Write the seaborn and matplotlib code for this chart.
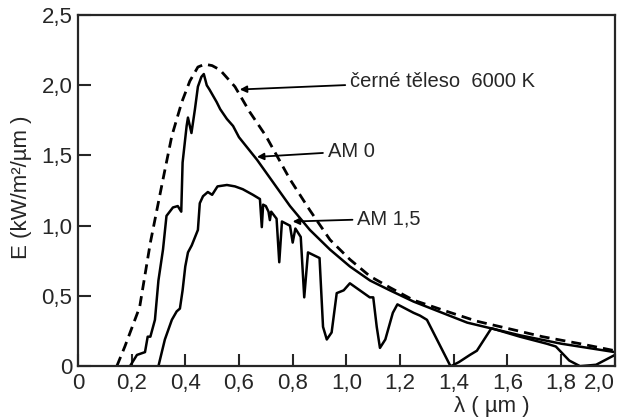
import matplotlib
matplotlib.use('Agg')
import matplotlib.pyplot as plt
import seaborn as sns
import pandas as pd

# vlnova delka (um) a E (kW/m2/um)
bb_x = [0.145, 0.175, 0.23, 0.27, 0.317, 0.35, 0.387, 0.417, 0.447, 0.473, 0.50,
        0.529, 0.585, 0.64, 0.70, 0.79, 0.864, 0.939, 1.013, 1.088, 1.162, 1.25,
        1.374, 1.486, 1.62, 1.73, 1.87, 2.0]
bb_y = [0, 0.14, 0.42, 0.88, 1.33, 1.64, 1.88, 2.03, 2.13, 2.15, 2.14,
        2.11, 1.99, 1.81, 1.64, 1.33, 1.11, 0.90, 0.76, 0.64, 0.56, 0.47,
        0.39, 0.32, 0.26, 0.21, 0.16, 0.11]

am0_x = [0.194, 0.22, 0.25, 0.26, 0.27, 0.287, 0.30, 0.317, 0.33, 0.354, 0.372,
         0.385, 0.39, 0.405, 0.41, 0.423, 0.436, 0.447, 0.46, 0.469, 0.48, 0.49,
         0.517, 0.53, 0.555, 0.578, 0.60, 0.667, 0.79, 0.864, 0.939, 1.013,
         1.088, 1.162, 1.25, 1.45, 1.646, 1.8, 2.0]
am0_y = [0, 0.08, 0.10, 0.21, 0.21, 0.33, 0.61, 0.83, 1.07, 1.13, 1.14,
         1.10, 1.45, 1.71, 1.77, 1.66, 1.83, 1.99, 2.06, 2.08, 2.00, 1.97,
         1.88, 1.83, 1.76, 1.71, 1.63, 1.47, 1.14, 0.97, 0.83, 0.71,
         0.61, 0.54, 0.46, 0.31, 0.22, 0.16, 0.10]

am15_x = [0.30, 0.305, 0.324, 0.35, 0.368, 0.38, 0.39, 0.40, 0.41, 0.424, 0.447,
          0.454, 0.466, 0.484, 0.50, 0.52, 0.555, 0.585, 0.614, 0.652, 0.678,
          0.685, 0.69, 0.70, 0.71, 0.715, 0.72, 0.74, 0.75, 0.76, 0.79, 0.80,
          0.81, 0.83, 0.843, 0.857, 0.90, 0.913, 0.927, 0.945, 0.964, 0.99,
          1.013, 1.05, 1.087, 1.10, 1.113, 1.125, 1.145, 1.173, 1.19, 1.25,
          1.274, 1.30, 1.385, 1.39, 1.42, 1.46, 1.486, 1.54, 1.646, 1.746,
          1.78, 1.83, 1.87, 1.93, 2.0]
am15_y = [0, 0.04, 0.19, 0.33, 0.39, 0.41, 0.54, 0.71, 0.81, 0.86, 0.97,
          1.16, 1.21, 1.24, 1.22, 1.28, 1.29, 1.28, 1.26, 1.22, 1.19,
          0.99, 1.15, 1.14, 1.10, 1.04, 1.10, 1.05, 0.74, 1.03, 1.00, 0.88,
          0.98, 0.92, 0.49, 0.81, 0.77, 0.28, 0.19, 0.24, 0.52, 0.54,
          0.59, 0.54, 0.49, 0.49, 0.28, 0.13, 0.19, 0.38, 0.44, 0.38,
          0.36, 0.33, 0.01, 0, 0.03, 0.08, 0.11, 0.27, 0.21, 0.16,
          0.14, 0.04, 0.0, 0.01, 0.08]

x_ticks = [0, 0.2, 0.4, 0.6, 0.8, 1.0, 1.2, 1.4, 1.6, 1.8, 2.0]
x_labels = ['0', '0,2', '0,4', '0,6', '0,8', '1,0', '1,2', '1,4', '1,6', '1,8', '2,0']
y_ticks = [0, 0.5, 1.0, 1.5, 2.0, 2.5]
y_labels = ['0', '0,5', '1,0', '1,5', '2,0', '2,5']

sns.set_style('ticks')
plt.rcParams['font.family'] = ['Liberation Sans', 'DejaVu Sans']
plt.rcParams['axes.linewidth'] = 1.6

fig = plt.figure(figsize=(6.23, 4.18), dpi=100)
ax = fig.add_axes([0.125, 0.124, 0.862, 0.840])

bb = pd.DataFrame({'x': bb_x, 'y': bb_y})
am0 = pd.DataFrame({'x': am0_x, 'y': am0_y})
am15 = pd.DataFrame({'x': am15_x, 'y': am15_y})

sns.lineplot(data=bb, x='x', y='y', ax=ax, color='black', lw=2.0,
             sort=False, estimator=None)
ax.lines[-1].set_dashes([3.6, 2.2])
sns.lineplot(data=am0, x='x', y='y', ax=ax, color='black', lw=1.8,
             sort=False, estimator=None)
sns.lineplot(data=am15, x='x', y='y', ax=ax, color='black', lw=1.8,
             sort=False, estimator=None)

ax.set_xlim(0, 2.0)
ax.set_ylim(0, 2.5)
ax.set_xticks(x_ticks)
ax.set_xticklabels(x_labels)
ax.set_yticks(y_ticks)
ax.set_yticklabels(y_labels)
ax.tick_params(direction='in', length=9, width=1.5, labelsize=16,
               top=False, right=False)
ax.tick_params(axis='x', pad=5)
ax.tick_params(axis='y', pad=4)
# posledni popisek by jinak vycnival z obrazku
ax.get_xticklabels()[-1].set_ha('right')

ax.set_xlabel('λ ( µm )', fontsize=16, va='top')
ax.xaxis.set_label_coords(0.77, -0.085)
ax.set_ylabel('E (kW/m²/µm )', fontsize=16)
ax.yaxis.set_label_coords(-0.085, 0.51)

arrow = dict(arrowstyle='-|>', lw=1.3, color='black', shrinkA=1, shrinkB=0,
             mutation_scale=10)
ax.annotate('černé těleso  6000 K', xy=(0.603, 1.97), xytext=(1.013, 2.03),
            fontsize=14.5, va='center', ha='left', arrowprops=arrow)
ax.annotate('AM 0', xy=(0.667, 1.49), xytext=(0.93, 1.53),
            fontsize=14.5, va='center', ha='left', arrowprops=arrow)
ax.annotate('AM 1,5', xy=(0.80, 1.03), xytext=(1.04, 1.05),
            fontsize=14.5, va='center', ha='left', arrowprops=arrow)

fig.savefig('out.png', dpi=100)
